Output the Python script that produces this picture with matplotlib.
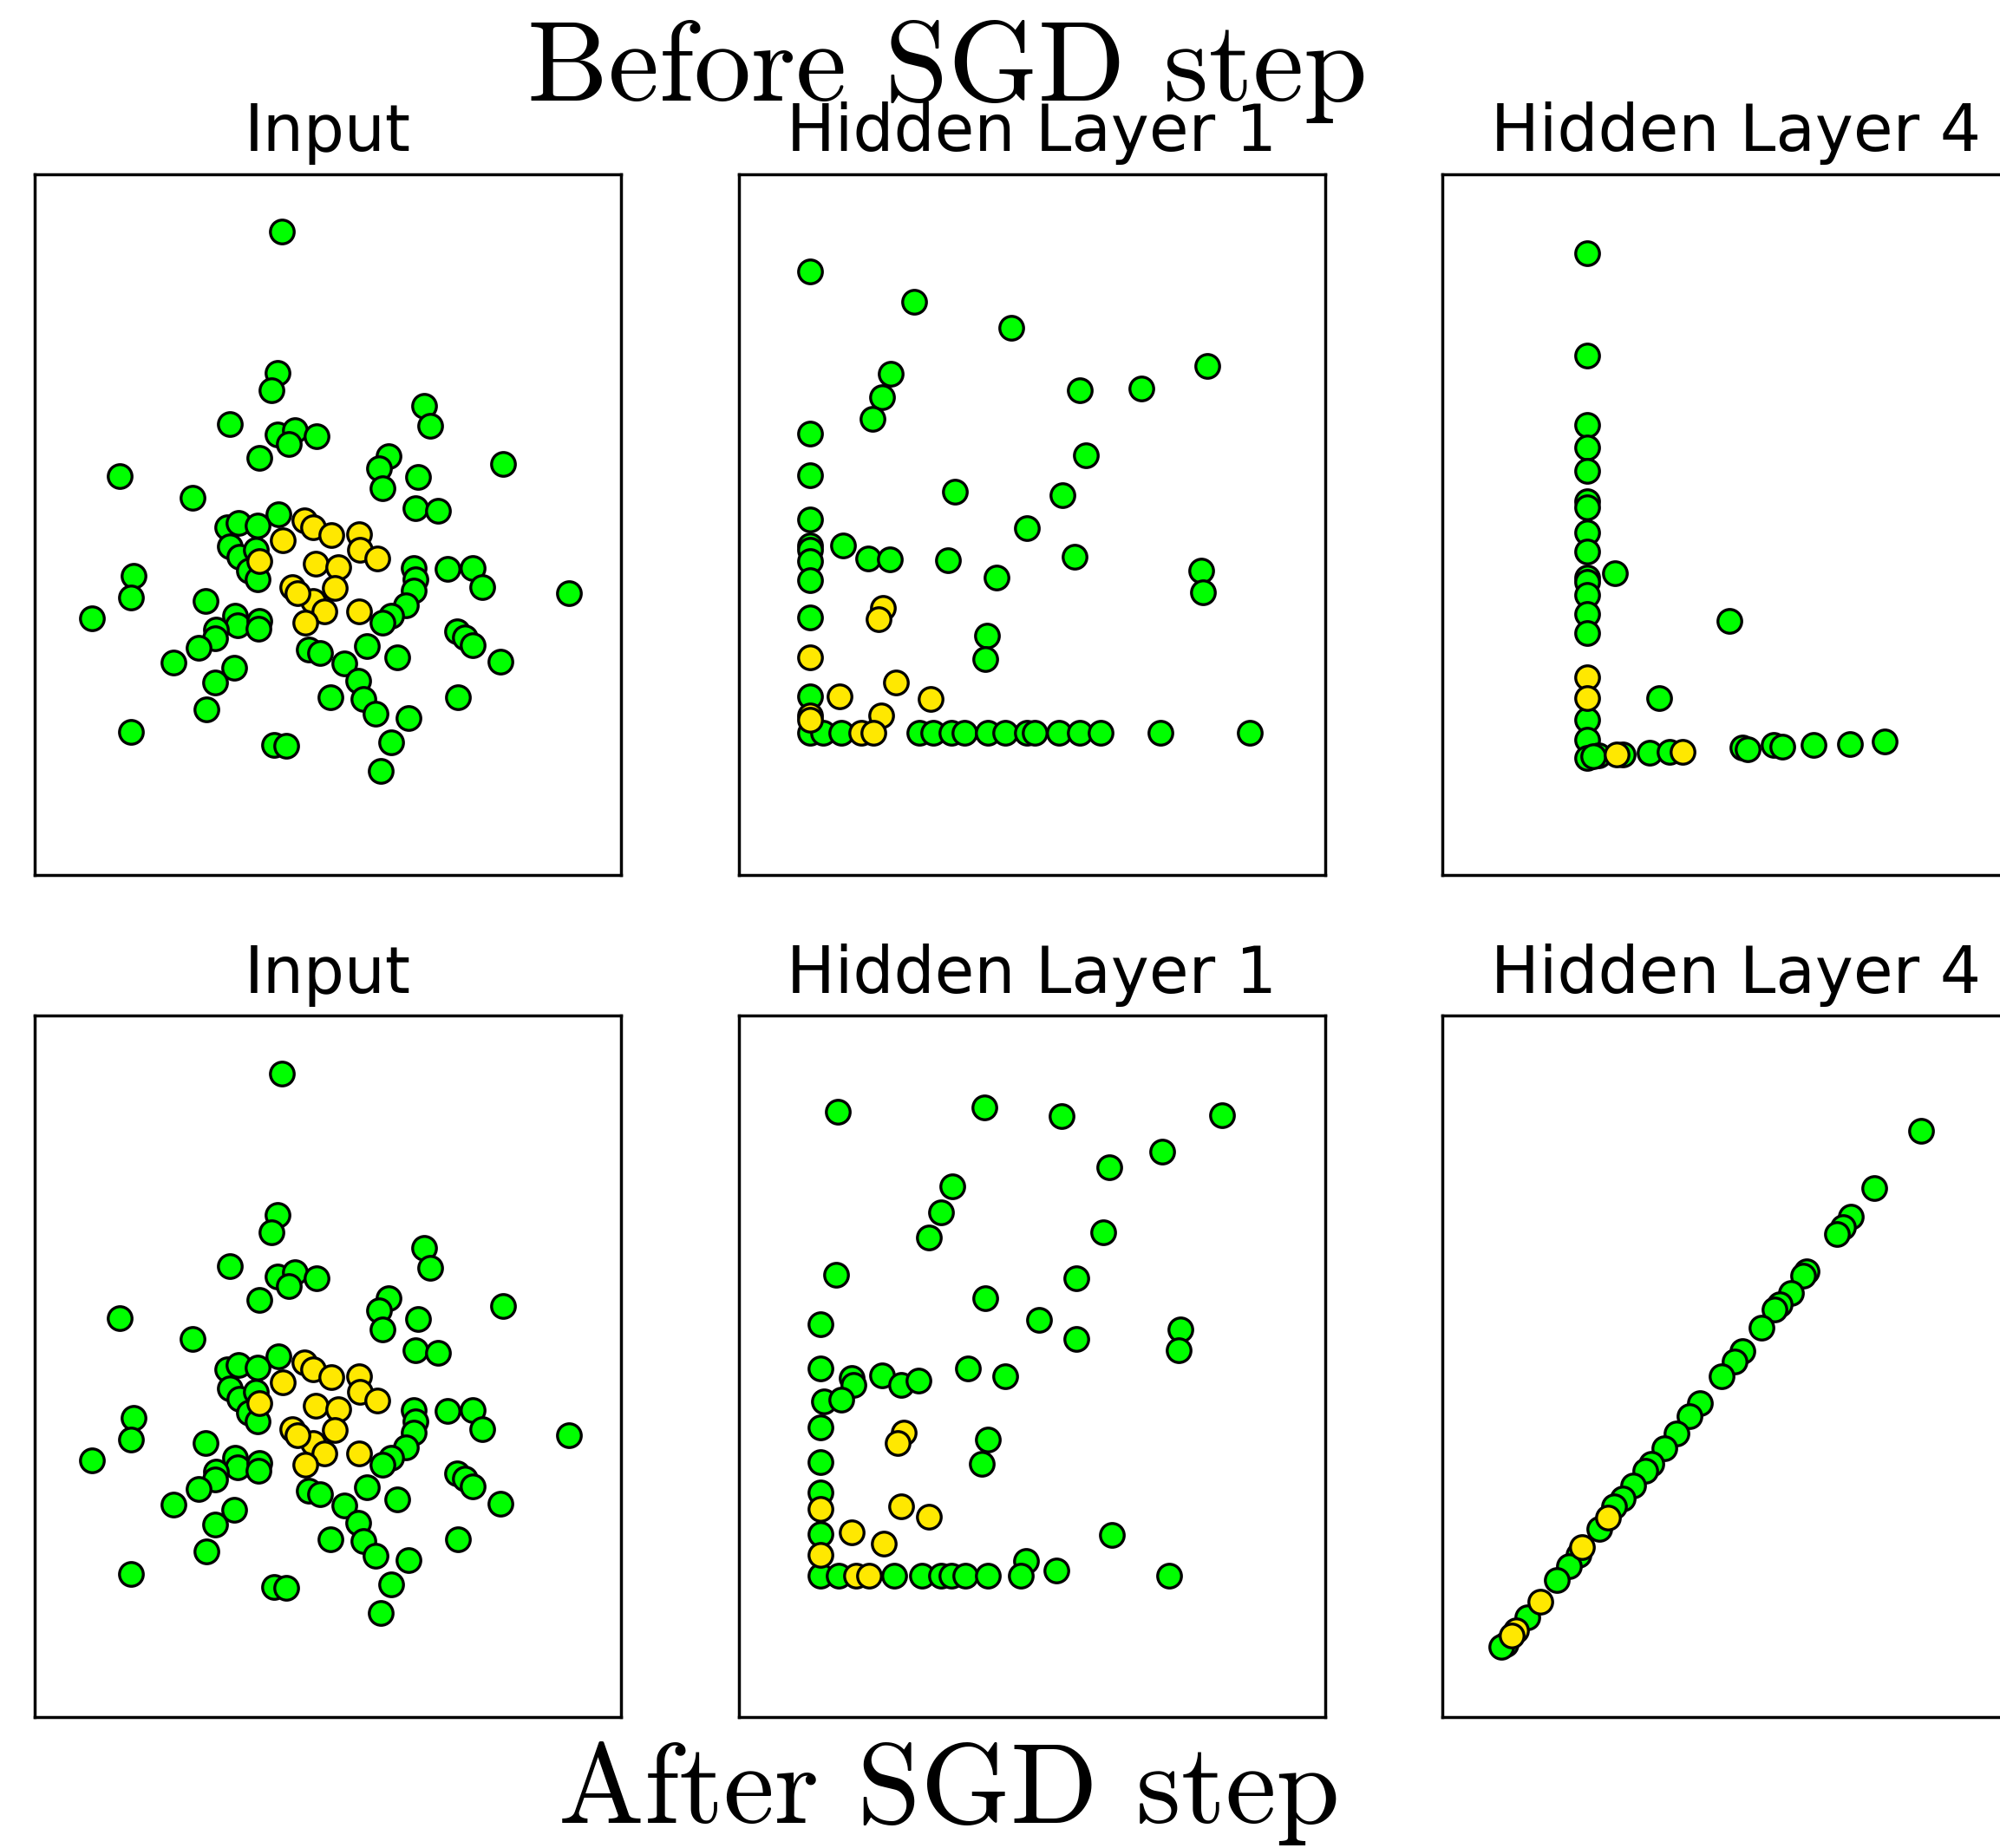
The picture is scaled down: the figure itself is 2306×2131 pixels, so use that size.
import matplotlib.pyplot as plt

# Input layer (identical before and after the SGD step)
in_green_x = [-0.63, -0.68, -0.77, -1.34, -0.69, -0.45, -0.53, -0.15, -0.93, 1.31,
              1.40, 2.39, -2.84, 0.83, 0.70, 0.74, 1.23, -1.84, 1.20, 1.50,
              -0.67, -1.37, -1.22, -0.96, -1.33, -1.21, -0.98, -1.07, -0.96, 1.17,
              1.63, 1.98, 2.11, 1.20, 1.17, 1.07, 0.86, 0.75, 3.29, -2.65,
              -2.68, -3.22, -1.67, -1.27, -1.23, -1.52, -1.54, -1.76, -0.93, -0.94,
              -2.11, -1.28, -1.54, -1.65, -0.26, -0.11, 0.53, 0.95, 1.76, 1.87,
              1.98, 2.35, 0.22, 0.42, 0.49, 0.65, 0.04, 1.78, 1.10, 0.86,
              0.72, -2.68, -0.73, -0.57]
in_green_y = [3.36, 1.74, 1.54, 1.15, 1.03, 1.08, 0.92, 1.01, 0.76, 1.36,
              1.13, 0.69, 0.55, 0.78, 0.64, 0.42, 0.54, 0.31, 0.19, 0.16,
              0.12, -0.03, 0.02, -0.01, -0.25, -0.37, -0.29, -0.53, -0.63, -0.50,
              -0.51, -0.50, -0.72, -0.63, -0.76, -0.93, -1.05, -1.13, -0.79, -0.59,
              -0.84, -1.08, -0.88, -1.05, -1.16, -1.21, -1.30, -1.41, -1.11, -1.20,
              -1.58, -1.64, -1.81, -2.12, -1.43, -1.47, -1.39, -1.52, -1.23, -1.29,
              -1.38, -1.57, -1.59, -1.79, -2.00, -2.17, -1.98, -1.98, -2.22, -2.50,
              -2.83, -2.38, -2.53, -2.54]
in_yellow_x = [-0.32, -0.20, 0.05, 0.43, 0.44, 0.67, -0.61, -0.93, -0.17, 0.14,
               -0.49, 0.09, -0.20, -0.05, -0.31, 0.43, -0.41]
in_yellow_y = [0.05, -0.03, -0.12, -0.11, -0.29, -0.39, -0.18, -0.42, -0.45, -0.49,
               -0.72, -0.73, -0.88, -1.00, -1.13, -1.00, -0.79]

# Hidden layer 1, before the step
h1b_green_x = [0, 1.79, 3.45, 1.39, 1.24, 1.07, 6.82, 4.63, 5.69, 0,
               4.74, 0, 2.49, 4.34, 3.72, 0, 0, 0, 0, 0,
               0.57, 1.00, 1.37, 2.37, 4.54, 3.20, 6.71, 6.75, 0, 3.04,
               3.00, 0,
               0, 0.22, 0.54, 1.87, 2.12, 2.42, 2.65, 3.05, 3.35, 3.72,
               3.85, 4.27, 4.63, 4.99, 6.02, 7.55]
h1b_green_y = [6.70, 6.25, 5.87, 5.21, 4.87, 4.55, 5.32, 4.97, 5.00, 4.34,
               4.02, 3.74, 3.49, 3.45, 2.97, 3.09, 2.72, 2.65, 2.49, 2.21,
               2.72, 2.52, 2.51, 2.50, 2.55, 2.25, 2.35, 2.03, 1.67, 1.41,
               1.07, 0.52,
               0, 0, 0, 0, 0, 0, 0, 0, 0, 0,
               0, 0, 0, 0, 0, 0]
h1b_yellow_x = [1.25, 1.17, 0, 1.47, 0.51, 2.07, 1.22, 0, 0, 0.87, 1.09]
h1b_yellow_y = [1.81, 1.65, 1.09, 0.72, 0.52, 0.49, 0.25, 0.25, 0.19, 0, 0]

# Hidden layer 4, before the step
h4b_green_x = [0, 0, 0, 0, 0, 0, 0, 0, 0, 0,
               0, 0, 0, 0, 0.47, 2.42, 1.22, 0, 0, 0,
               0.20, 0.60, 1.06, 1.40, 2.65, 2.74, 3.17, 3.33, 3.85, 4.48,
               5.06, 0.10]
h4b_green_y = [7.18, 5.73, 4.74, 4.41, 4.08, 3.65, 3.56, 3.20, 2.94, 2.57,
               2.50, 2.32, 2.05, 1.78, 2.63, 1.95, 0.85, 0.54, 0.25, 0,
               0.03, 0.05, 0.07, 0.08, 0.14, 0.12, 0.18, 0.16, 0.18, 0.20,
               0.23, 0.02]
h4b_yellow_x = [0, 0, 0.50, 1.63]
h4b_yellow_y = [1.15, 0.85, 0.04, 0.08]

# Hidden layer 1, after the step
h1a_green_x = [0.30, 2.81, 4.15, 6.90, 5.87, 4.97, 2.27, 2.07, 1.86, 4.86,
               0.26, 4.40, 2.83, 0, 3.76, 4.40, 6.18, 6.15, 0, 0.53,
               0.57, 1.05, 1.38, 1.69, 2.53, 3.18, 0.05, 0.35, 0, 2.87,
               2.77, 0, 0, 0, 5.01, 3.53, 4.06,
               0, 0.31, 1.27, 1.75, 2.07, 2.25, 2.49, 2.87, 3.45, 6.00]
h1a_green_y = [6.73, 6.79, 6.67, 6.68, 6.15, 5.93, 5.65, 5.27, 4.90, 4.98,
               4.37, 4.32, 4.03, 3.65, 3.71, 3.43, 3.57, 3.27, 3.01, 2.87,
               2.77, 2.91, 2.77, 2.83, 3.00, 2.89, 2.53, 2.55, 2.15, 1.97,
               1.62, 1.65, 1.21, 0.60, 0.59, 0.21, 0.08,
               0, 0, 0, 0, 0, 0, 0, 0, 0, 0]
h1a_yellow_x = [1.43, 1.33, 0, 1.39, 1.86, 0.53, 1.08, 0, 0.61, 0.83]
h1a_yellow_y = [2.08, 1.92, 0.97, 1.00, 0.85, 0.63, 0.47, 0.30, 0, 0]

# Hidden layer 4, after the step
h4a_green_x = [7.15, 6.36, 5.96, 5.82, 5.72, 5.21, 5.15, 4.93, 4.75, 4.66,
               4.44, 4.11, 3.98, 3.76, 3.39, 3.21, 2.99, 2.78, 2.55, 2.45,
               2.25, 2.07, 1.92, 1.67, 1.32, 1.15, 0.95, 0.45, 0.08, 0]
h4a_green_y = [7.34, 6.52, 6.12, 5.97, 5.87, 5.34, 5.27, 5.03, 4.87, 4.79,
               4.53, 4.20, 4.05, 3.84, 3.46, 3.28, 3.03, 2.82, 2.60, 2.50,
               2.29, 2.11, 1.99, 1.67, 1.31, 1.14, 0.95, 0.42, 0.03, 0]
h4a_yellow_x = [1.82, 1.37, 0.67, 0.25, 0.18]
h4a_yellow_y = [1.84, 1.41, 0.64, 0.23, 0.16]

titles = ["Input", "Hidden Layer 1", "Hidden Layer 4"]
green = "#00ff00"
yellow = "#ffe800"

fig = plt.figure(figsize=(23.06, 21.31), dpi=100)

col_left = [0.0172, 0.3693, 0.7213]
row_bottom = [0.5265, 0.0709]
w, h = 0.2934, 0.3794

rows = [
    [(in_green_x, in_green_y, in_yellow_x, in_yellow_y, (-4, 4), (-4.02, 4.02)),
     (h1b_green_x, h1b_green_y, h1b_yellow_x, h1b_yellow_y, (-1.23, 8.85), (-2.07, 8.11)),
     (h4b_green_x, h4b_green_y, h4b_yellow_x, h4b_yellow_y, (-2.46, 7.53), (-1.67, 8.31))],
    [(in_green_x, in_green_y, in_yellow_x, in_yellow_y, (-4, 4), (-4.02, 4.02)),
     (h1a_green_x, h1a_green_y, h1a_yellow_x, h1a_yellow_y, (-1.41, 8.68), (-2.05, 8.12)),
     (h4a_green_x, h4a_green_y, h4a_yellow_x, h4a_yellow_y, (-1.0, 9.0), (-1.0, 8.97))],
]

for r, row in enumerate(rows):
    for c, (gx, gy, yx, yy, xl, yl) in enumerate(row):
        ax = fig.add_axes([col_left[c], row_bottom[r], w, h])
        ax.scatter(gx, gy, s=390, c=green, edgecolors="black", linewidths=2.4, zorder=2)
        ax.scatter(yx, yy, s=390, c=yellow, edgecolors="black", linewidths=2.4, zorder=3)
        ax.set_xlim(*xl)
        ax.set_ylim(*yl)
        ax.set_xticks([])
        ax.set_yticks([])
        for sp in ax.spines.values():
            sp.set_linewidth(2.5)
        ax.set_title(titles[c], fontsize=53.5, pad=19)

fig.text(0.4738, 0.9455, "Before SGD step", fontsize=95, family="cmr10",
         ha="center", va="baseline")
fig.text(0.4745, 0.0136, "After SGD step", fontsize=95, family="cmr10",
         ha="center", va="baseline")

fig.savefig("out.png", dpi=100)
